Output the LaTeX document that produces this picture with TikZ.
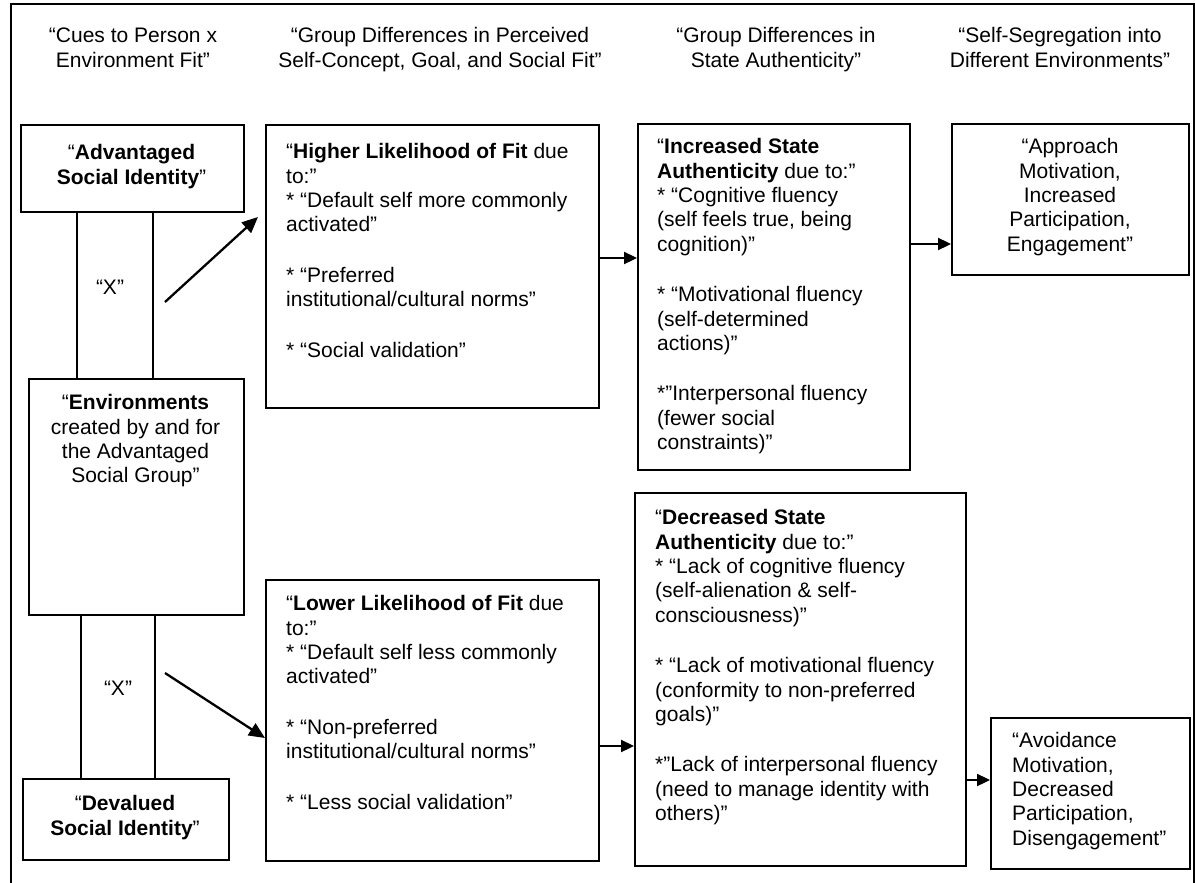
\documentclass[tikz,border=0pt]{standalone}
\usepackage{fontspec}
\setmainfont{Liberation Sans}
\usetikzlibrary{arrows.meta}
\begin{document}
\begin{tikzpicture}[x=1pt,y=-1pt,
  box/.style={draw, line width=2.2pt, rectangle, inner sep=0pt, anchor=north west},
  txt/.style={inner sep=0pt, font=\fontsize{21}{24.4}\selectfont},
  ltxt/.style={txt, anchor=north west, align=left},
  ctxt/.style={txt, anchor=north, align=center},
  arr/.style={line width=2.3pt, -{Triangle[length=13pt,width=12pt]}},
  darr/.style={line width=2.3pt, -{Triangle[length=16pt,width=14pt]}},
  pillar/.style={line width=2pt}
]
\useasboundingbox (0,0) rectangle (1195,883);
% outer frame
\draw[line width=2pt] (11,890) -- (11,4) -- (1194,4) -- (1194,890);

% headers
\node[ctxt] (h1) at (133,25.4) {\strut “Cues to Person x\\Environment Fit”};
\node[ctxt] (h2) at (440,25.4) {\strut “Group Differences in Perceived\\Self-Concept, Goal, and Social Fit”};
\node[ctxt] (h3) at (776,25.4) {\strut “Group Differences in\\State Authenticity”};
\node[ctxt] (h4) at (1060,25.4) {\strut “Self-Segregation into\\Different Environments”};

% boxes
\node[box, minimum width=223pt, minimum height=87pt] (adv) at (20,124) {};
\node[box, minimum width=215pt, minimum height=236pt] (env) at (28,378) {};
\node[box, minimum width=206pt, minimum height=81pt] (dev) at (22,778) {};
\node[box, minimum width=333pt, minimum height=283pt] (higher) at (265,124) {};
\node[box, minimum width=333pt, minimum height=281pt] (lower) at (265,579) {};
\node[box, minimum width=272pt, minimum height=346pt] (incr) at (637,123) {};
\node[box, minimum width=331pt, minimum height=373pt] (decr) at (634,492) {};
\node[box, minimum width=237pt, minimum height=151pt] (appr) at (951,123) {};
\node[box, minimum width=199pt, minimum height=151pt] (avoid) at (990,717) {};

% box texts
\node[ctxt] (advT) at (131.5,142.4) {\strut “\textbf{Advantaged}\\\textbf{Social Identity}”};
\node[ctxt] (envT) at (135.5,392.4) {\strut “\textbf{Environments}\\created by and for\\the Advantaged\\Social Group”};
\node[ctxt] (devT) at (125,793.4) {\strut “\textbf{Devalued}\\\textbf{Social Identity}”};
\node[txt] (x1) at (110,287) {“X”};
\node[txt] (x2) at (118,688) {“X”};

\node[ltxt] (higherT) at (286,141.4) {\strut “\textbf{Higher Likelihood of Fit} due\\to:”\\* “Default self more commonly\\activated”\\[26pt]* “Preferred\\institutional/cultural norms”\\[26pt]* “Social validation”};
\node[ltxt] (lowerT) at (286,593.4) {\strut “\textbf{Lower Likelihood of Fit} due\\to:”\\* “Default self less commonly\\activated”\\[26pt]* “Non-preferred\\institutional/cultural norms”\\[26pt]* “Less social validation”};
\node[ltxt] (incrT) at (657,136.4) {\strut “\textbf{Increased State}\\\textbf{Authenticity} due to:”\\* “Cognitive fluency\\(self feels true, being\\cognition)”\\[26pt]* “Motivational fluency\\(self-determined\\actions)”\\[26pt]*”Interpersonal fluency\\(fewer social\\constraints)”};
\node[ltxt] (decrT) at (655,507.4) {\strut “\textbf{Decreased State}\\\textbf{Authenticity} due to:”\\* “Lack of cognitive fluency\\(self-alienation \& self-\\consciousness)”\\[26pt]* “Lack of motivational fluency\\(conformity to non-preferred\\goals)”\\[26pt]*”Lack of interpersonal fluency\\(need to manage identity with\\others)”};
\node[ctxt] (apprT) at (1070,136.4) {\strut “Approach\\Motivation,\\Increased\\Participation,\\Engagement”};
\node[ltxt] (avoidT) at (1012,730.4) {\strut “Avoidance\\Motivation,\\Decreased\\Participation,\\Disengagement”};

% pillars
\coordinate (p1) at (77,0);
\coordinate (p2) at (153,0);
\coordinate (p3) at (81,0);
\coordinate (p4) at (155,0);
\draw[pillar] (adv.south -| p1) -- (env.north -| p1);
\draw[pillar] (adv.south -| p2) -- (env.north -| p2);
\draw[pillar] (env.south -| p3) -- (dev.north -| p3);
\draw[pillar] (env.south -| p4) -- (dev.north -| p4);

% diagonal arrows
\coordinate (d1s) at (165,302);
\coordinate (d1e) at (258,217);
\coordinate (d2s) at (165,673);
\coordinate (d2e) at (265,738);
\draw[darr] (d1s) -- (d1e);
\draw[darr] (d2s) -- (d2e);

% horizontal arrows
\coordinate (y1) at (0,258);
\coordinate (y2) at (0,244);
\coordinate (y3) at (0,746);
\coordinate (y4) at (0,780);
\draw[arr] (higher.east |- y1) -- (incr.west |- y1);
\draw[arr] (incr.east |- y2) -- (appr.west |- y2);
\draw[arr] (lower.east |- y3) -- (decr.west |- y3);
\draw[arr] (decr.east |- y4) -- (avoid.west |- y4);
\end{tikzpicture}
\end{document}
